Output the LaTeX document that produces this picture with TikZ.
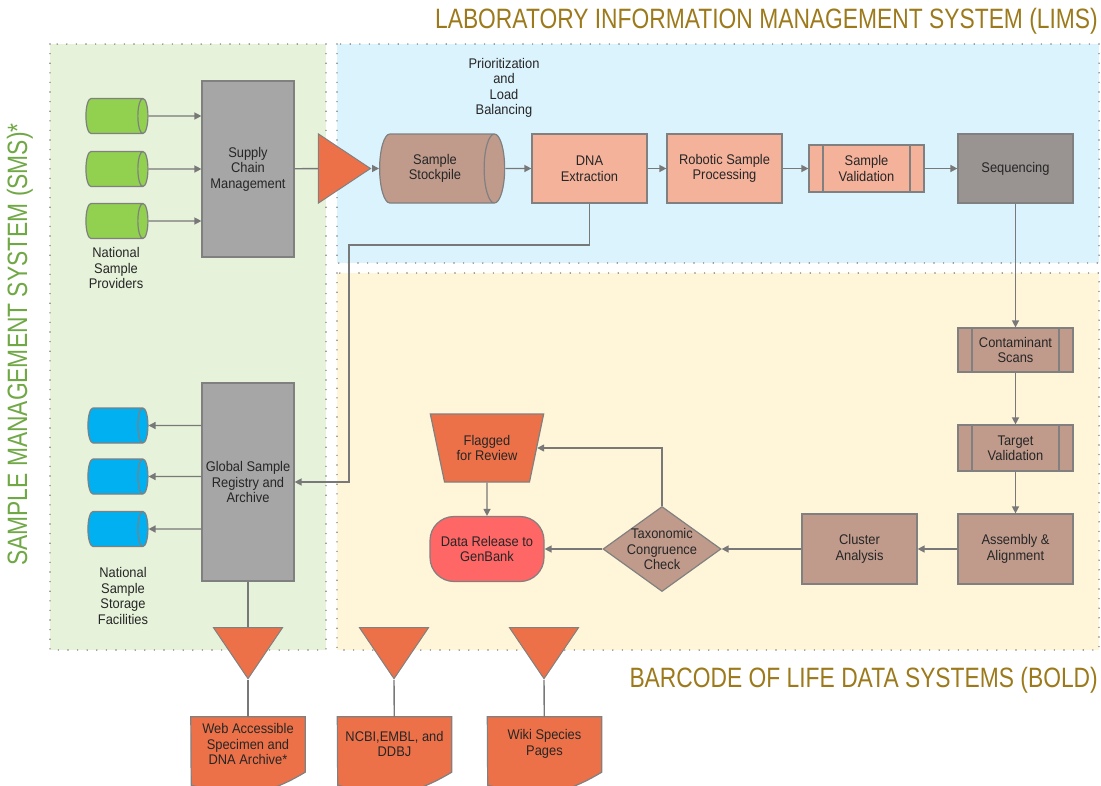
\documentclass[tikz,border=0pt]{standalone}
\usepackage{fontspec}
\setmainfont{Liberation Sans}[FakeStretch=0.92]
\newfontfamily\headfont{Liberation Sans}[FakeStretch=0.815]
\usetikzlibrary{shapes.geometric,arrows.meta,backgrounds}

\definecolor{smsfill}{RGB}{230,242,218}
\definecolor{limsfill}{RGB}{219,243,253}
\definecolor{boldfill}{RGB}{255,245,217}
\definecolor{headgold}{RGB}{156,122,28}
\definecolor{headgreen}{RGB}{112,168,70}
\definecolor{ink}{RGB}{38,38,38}
\definecolor{dotgray}{RGB}{130,130,130}
\definecolor{edgegray}{RGB}{128,128,128}
\definecolor{linegray}{RGB}{120,120,120}
\definecolor{boxgray}{RGB}{166,166,166}
\definecolor{seqgray}{RGB}{153,148,146}
\definecolor{leaf}{RGB}{146,208,80}
\definecolor{sky}{RGB}{0,176,240}
\definecolor{flag}{RGB}{237,113,72}
\definecolor{salmon}{RGB}{244,178,155}
\definecolor{clay}{RGB}{192,155,140}
\definecolor{genbank}{RGB}{255,102,102}

\tikzset{
    every node/.style={font=\fontsize{14}{15.5}\selectfont,text=ink,align=center,inner sep=2pt},
    region/.style={draw=dotgray,line width=1.6pt,dash pattern=on 0pt off 9.6pt,line cap=round},
    heading/.style={font=\headfont\fontsize{28}{30}\selectfont,text=headgold,inner sep=0pt},
    box/.style={rectangle,draw=edgegray,line width=1.2pt,minimum width=115pt,minimum height=69pt},
    predef/.style={box,path picture={
        \draw[edgegray,line width=1.2pt]
            ([xshift=14pt]path picture bounding box.north west) -- ([xshift=14pt]path picture bounding box.south west)
            ([xshift=-14pt]path picture bounding box.north east) -- ([xshift=-14pt]path picture bounding box.south east);}},
    store/.style={cylinder,draw=edgegray,line width=1.2pt,aspect=0.63,inner sep=8pt,minimum width=35pt,minimum height=62pt},
    gate/.style={isosceles triangle,isosceles triangle stretches,draw=edgegray,line width=1pt,fill=flag,inner sep=0pt},
    doc/.style={minimum width=114pt,minimum height=54pt},
    docline/.style={draw=edgegray,line width=1.2pt,fill=flag},
    >={Triangle[length=7pt,width=7pt]},
    flow/.style={draw=linegray,line width=1.4pt,->},
    link/.style={draw=linegray,line width=1.4pt},
}

\begin{document}
\begin{tikzpicture}[x=1pt,y=-1pt]
    \useasboundingbox (0,0) rectangle (1101,785);
    \fill[smsfill] (50,44) rectangle (326,650);
    \fill[limsfill] (337,44) rectangle (1099,263);
    \fill[boldfill] (337,273) rectangle (1099,650);
    \draw[region] (50,44) rectangle (326,650);
    \draw[region] (337,44) rectangle (1099,263);
    \draw[region] (337,273) rectangle (1099,650);

    \node[heading,anchor=east] (limshead) at (1098,21) {LABORATORY INFORMATION MANAGEMENT SYSTEM (LIMS)};
    \node[heading,anchor=east] (boldhead) at (1098,680) {BARCODE OF LIFE DATA SYSTEMS (BOLD)};
    \node[heading,text=headgreen,rotate=90,anchor=west] (smshead) at (20,566) {SAMPLE MANAGEMENT SYSTEM (SMS)*};

    \node[box,fill=boxgray,minimum width=92pt,minimum height=176pt] (supply) at (248,169) {Supply\\Chain\\Management};
    \node[box,fill=boxgray,minimum width=92pt,minimum height=198pt] (registry) at (248,482) {Global Sample\\Registry and\\Archive};
    \foreach \n/\y in {1/116,2/169,3/221} {
        \node[store,fill=leaf] (prov\n) at (112,\y) {};
    }
    \foreach \n/\y in {1/425.5,2/476.5,3/529} {
        \node[store,fill=sky,minimum height=60pt] (vault\n) at (113,\y) {};
    }
    \node (providers) at (116,268) {National\\Sample\\Providers};
    \node (facilities) at (123,596) {National\\Sample\\Storage\\Facilities};
    \node[gate,minimum width=69pt,minimum height=52pt] (gate) at (337,168.5) {};

    \node[store,fill=clay,inner sep=2pt,minimum width=69pt,minimum height=125pt] (stockpile) at (435,168.5) {Sample\\Stockpile};
    \node (balancing) at (504,88) {Prioritization\\and\\Load\\Balancing};
    \node[box,fill=salmon] (extract) at (589.5,168.5) {DNA\\Extraction};
    \node[box,fill=salmon] (robot) at (724.5,168.5) {Robotic Sample\\Processing};
    \node[predef,fill=salmon,minimum height=47pt] (validate) at (866.5,168.5) {Sample\\Validation};
    \node[box,fill=seqgray] (sequence) at (1015.5,168.5) {Sequencing};

    \node[predef,fill=clay,minimum height=44pt] (contam) at (1015.5,350) {Contaminant\\Scans};
    \node[predef,fill=clay,minimum height=46pt] (target) at (1015.5,448) {Target\\Validation};
    \node[box,fill=clay,minimum height=70pt] (assembly) at (1015.5,549) {Assembly \&\\Alignment};
    \node[box,fill=clay,minimum height=70pt] (cluster) at (859.5,549) {Cluster\\Analysis};
    \node[diamond,draw=edgegray,line width=1.2pt,fill=clay,inner sep=0pt,minimum width=118pt,minimum height=85pt,
        label=center:{Taxonomic\\Congruence\\Check}] (check) at (662,549) {};
    \node[box,fill=genbank,rounded corners=24pt,minimum width=114pt,minimum height=65pt] (release) at (487,549) {Data Release to\\GenBank};
    \node[trapezium,trapezium stretches=true,shape border rotate=180,trapezium left angle=70,trapezium right angle=70,
        draw=edgegray,line width=1.2pt,fill=flag,minimum width=114pt,minimum height=68pt] (flagged) at (487,448) {Flagged\\for Review};

    \foreach \n/\x in {1/248,2/394,3/544} {
        \node[gate,shape border rotate=270,minimum width=69pt,minimum height=51pt] (drop\n) at (\x,646) {};
    }
    \node[doc] (archive) at (248,744) {Web Accessible\\Specimen and\\DNA Archive*};
    \node[doc] (ncbi) at (394.5,744) {NCBI,EMBL, and\\DDBJ};
    \node[doc] (wiki) at (544.5,744) {Wiki Species\\Pages};
    \begin{scope}[on background layer]
        \foreach \d in {archive,ncbi,wiki} {
            \draw[docline] (\d.north west) -- (\d.north east) -- ([yshift=-1pt]\d.south east)
                .. controls +(-50,30) and +(40,10) .. ++(-114,13) -- cycle;
        }
    \end{scope}

    \foreach \n in {1,2,3} {
        \draw[flow] (prov\n) -- (supply.west |- prov\n);
        \draw[flow] (registry.west |- vault\n) -- (vault\n);
    }
    \draw[link] (supply) -- (gate);
    \draw[flow] (gate.apex) -- (stockpile);
    \draw[flow] (stockpile) -- (extract);
    \draw[flow] (extract) -- (robot);
    \draw[flow] (robot) -- (validate);
    \draw[flow] (validate) -- (sequence);
    \coordinate (bend) at (349,245);
    \draw[flow] (extract) |- (bend) |- (registry);
    \draw[flow] (sequence) -- (contam);
    \draw[flow] (contam) -- (target);
    \draw[flow] (target) -- (assembly);
    \draw[flow] (assembly) -- (cluster);
    \draw[flow] (cluster) -- (check);
    \draw[flow] (check) -- (release);
    \draw[flow] (check) |- (flagged);
    \draw[flow] (flagged) -- (release);
    \draw[link] (registry) -- (drop1);
    \foreach \n/\d in {1/archive,2/ncbi,3/wiki} {
        \draw[link] (drop\n.apex) -- (\d);
    }
\end{tikzpicture}
\end{document}
